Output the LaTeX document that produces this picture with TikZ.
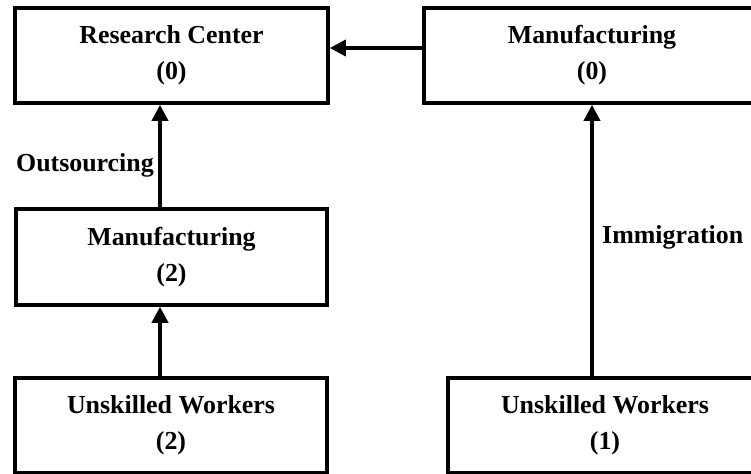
\documentclass[tikz,border=0pt]{standalone}
\usepackage{fontspec}
\setmainfont{Liberation Serif}
\usetikzlibrary{arrows.meta,calc}
\tikzset{
  box/.style={draw=black, line width=3.6bp, rectangle, align=center, inner sep=0pt,
    font=\fontsize{26}{36}\selectfont\bfseries},
  arr/.style={draw=black, line width=3.6bp, -{Triangle[length=16bp,width=16bp]}},
  lbl/.style={font=\fontsize{26}{30}\selectfont\bfseries, inner sep=0pt}
}
\begin{document}
\begin{tikzpicture}[x=1bp,y=-1bp]
\useasboundingbox (0,0) rectangle (751,474);
\clip (0,0) rectangle (751,474);
\node[box, minimum width=313bp, minimum height=95bp] (rc) at (171.5,55.5) {Research Center\\(0)};
\node[box, minimum width=336bp, minimum height=95bp] (m0) at (592,55.5) {Manufacturing\\(0)};
\node[box, minimum width=311bp, minimum height=96bp] (m2) at (171.5,257) {Manufacturing\\(2)};
\node[box, minimum width=312bp, minimum height=95bp] (u2) at (171,425.5) {Unskilled Workers\\(2)};
\node[box, minimum width=314bp, minimum height=95bp] (u1) at (605,425.5) {Unskilled Workers\\(1)};
\coordinate (colL) at (160,0);
\coordinate (colR) at (592,0);
\coordinate (rowT) at (0,48);
\draw[arr] (m0.west |- rowT) -- (rc.east |- rowT);
\draw[arr] (m2.north -| colL) -- (rc.south -| colL);
\draw[arr] (u2.north -| colL) -- (m2.south -| colL);
\draw[arr] (u1.north -| colR) -- (m0.south -| colR);
\node[lbl, anchor=east] (out) at (154,165) {Outsourcing};
\node[lbl, anchor=west] (imm) at (602,237) {Immigration};
\end{tikzpicture}
\end{document}
